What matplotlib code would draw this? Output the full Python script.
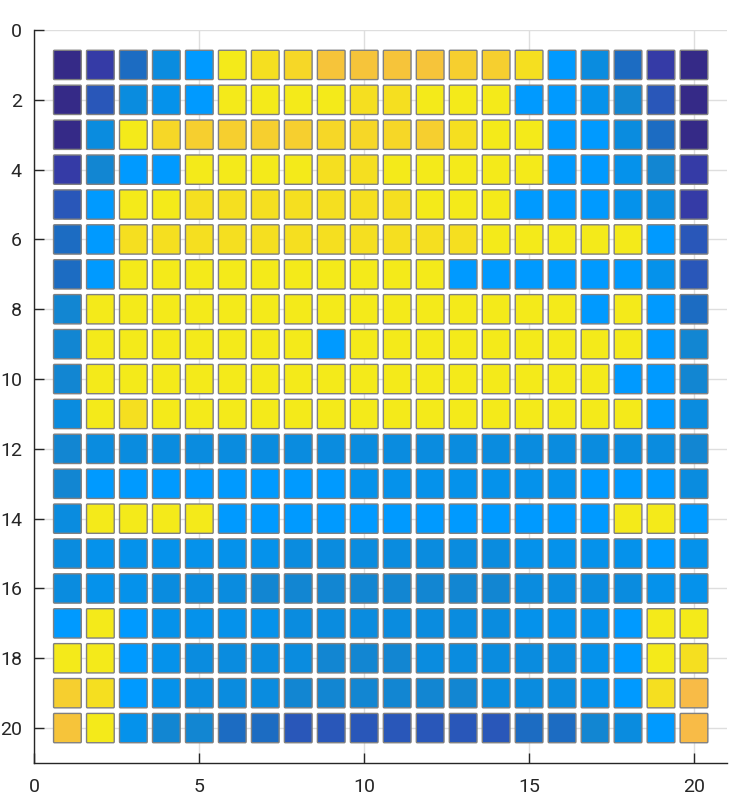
import numpy as np
import matplotlib.pyplot as plt
from matplotlib.patches import FancyBboxPatch

# colour levels: 0-7 blues (dark -> bright), 8-13 yellows (bright -> orange)
palette = ['#352A87', '#353BA6', '#2957B9', '#1C6CC2', '#1286D2', '#0A8CDF',
           '#0592EB', '#009AFF', '#F4EA1A', '#F5DF20', '#F6D727', '#F6CF2F',
           '#F6C43A', '#F8BB47']

grid_levels = [
    [0, 1, 3, 5, 7, 8, 9, 10, 12, 12, 12, 12, 11, 11, 9, 7, 5, 3, 1, 0],
    [0, 2, 5, 6, 7, 8, 8, 8, 8, 9, 9, 8, 8, 8, 7, 7, 6, 4, 2, 0],
    [0, 5, 8, 10, 11, 11, 11, 11, 10, 10, 10, 11, 9, 8, 8, 7, 7, 5, 3, 0],
    [1, 4, 7, 7, 8, 8, 8, 8, 9, 9, 8, 8, 8, 8, 8, 7, 7, 6, 4, 1],
    [2, 7, 8, 8, 9, 9, 9, 9, 9, 9, 9, 8, 8, 8, 7, 7, 7, 6, 5, 1],
    [3, 7, 9, 9, 9, 9, 9, 9, 9, 9, 9, 9, 9, 8, 8, 8, 8, 8, 7, 2],
    [3, 7, 8, 8, 8, 8, 8, 8, 8, 8, 8, 8, 7, 7, 7, 7, 7, 7, 6, 2],
    [4, 8, 8, 8, 8, 8, 8, 8, 8, 8, 8, 8, 8, 8, 8, 8, 7, 8, 7, 3],
    [4, 8, 8, 8, 8, 8, 8, 8, 7, 8, 8, 8, 8, 8, 8, 8, 8, 8, 7, 4],
    [4, 8, 8, 8, 8, 8, 8, 8, 8, 8, 8, 8, 8, 8, 8, 8, 8, 7, 7, 4],
    [5, 8, 9, 8, 8, 8, 8, 8, 8, 8, 8, 8, 8, 8, 8, 8, 8, 8, 7, 5],
    [4, 5, 5, 5, 5, 5, 5, 5, 5, 5, 5, 5, 5, 5, 5, 5, 5, 5, 5, 4],
    [4, 7, 7, 7, 7, 7, 7, 7, 7, 6, 6, 6, 6, 6, 6, 6, 7, 7, 7, 5],
    [5, 8, 8, 8, 8, 7, 7, 7, 7, 7, 7, 7, 7, 7, 7, 7, 7, 8, 8, 7],
    [5, 6, 6, 6, 6, 6, 6, 5, 5, 5, 5, 5, 5, 5, 6, 6, 6, 6, 7, 6],
    [5, 6, 6, 5, 5, 5, 4, 4, 4, 4, 4, 4, 4, 4, 5, 5, 5, 5, 6, 6],
    [7, 8, 7, 6, 6, 6, 6, 5, 5, 5, 5, 5, 5, 5, 6, 6, 6, 7, 8, 8],
    [8, 8, 7, 6, 5, 5, 5, 5, 4, 4, 4, 5, 5, 5, 5, 5, 6, 7, 8, 9],
    [11, 9, 7, 6, 5, 5, 5, 4, 4, 4, 4, 4, 4, 5, 5, 5, 6, 7, 9, 13],
    [12, 8, 6, 4, 4, 3, 3, 2, 2, 2, 2, 2, 2, 2, 3, 3, 4, 5, 7, 13],
]

xticks = [0, 5, 10, 15, 20]
yticks = [0, 2, 4, 6, 8, 10, 12, 14, 16, 18, 20]

fig = plt.figure(figsize=(7.5, 8.05), dpi=100)
ax = fig.add_axes([0.0459, 0.0522, 0.9234, 0.9105])

size = 0.84
levels = np.array(grid_levels)
for r in range(levels.shape[0]):
    for c in range(levels.shape[1]):
        x, y = c + 1, r + 1
        box = FancyBboxPatch((x - size / 2, y - size / 2), size, size,
                             boxstyle='round,pad=0,rounding_size=0.03',
                             facecolor=palette[levels[r, c]],
                             edgecolor='#808080', linewidth=1.0, zorder=3)
        ax.add_patch(box)

ax.set_xlim(0, 21)
ax.set_ylim(21, 0)
ax.set_xticks(xticks)
ax.set_yticks(yticks)
ax.grid(True, color='#dedede', linewidth=1.0, zorder=0)
ax.set_axisbelow(True)
for s in ['top', 'right']:
    ax.spines[s].set_visible(False)
for s in ['left', 'bottom']:
    ax.spines[s].set_color('#262626')
    ax.spines[s].set_linewidth(1.0)
ax.tick_params(direction='in', length=7, width=1.0, color='#262626',
               labelsize=14, labelcolor='#262626')
ax.tick_params(axis='x', pad=11)
ax.tick_params(axis='y', pad=9)
for lab in ax.get_xticklabels() + ax.get_yticklabels():
    lab.set_family('Roboto')

fig.savefig('out.png', dpi=100)
